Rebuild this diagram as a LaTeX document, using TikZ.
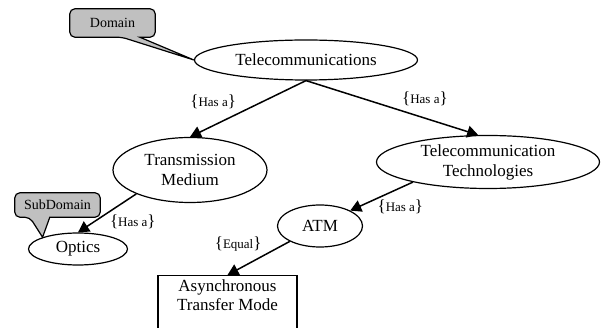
\documentclass[tikz,border=0pt]{standalone}
\usepackage{fontspec}
\setmainfont{Liberation Serif}
\usepackage{xcolor}
\usetikzlibrary{shapes.geometric, arrows.meta, backgrounds}
\definecolor{calloutgray}{RGB}{192,192,192}
\newcommand{\reltag}[1]{{\fontsize{17}{17}\selectfont\{}{\fontsize{13}{15}\selectfont #1}{\fontsize{17}{17}\selectfont\}}}

\begin{document}
\begin{tikzpicture}[x=1pt, y=-1pt, font=\fontsize{17}{20}\selectfont,
        concept/.style={ellipse, draw=black, line width=1.2pt, inner sep=0pt, align=center},
        term/.style={rectangle, draw=black, line width=1.2pt, inner sep=4pt, align=center,
            minimum width=139pt, anchor=north, font=\fontsize{17}{19}\selectfont},
        tagbox/.style={rectangle, inner sep=0pt, minimum width=85pt, font=\fontsize{14}{16}\selectfont},
        callout/.style={draw=black, line width=1.2pt, fill=calloutgray},
        rel/.style={inner sep=0pt}]
        \useasboundingbox (0,0) rectangle (602,328);

        \node[concept, name=tele, minimum width=223pt, minimum height=40pt] at (306,60) {Telecommunications};
        \node[concept, name=tm, minimum width=154pt, minimum height=65pt] at (190,170) {Transmission\\Medium};
        \node[concept, name=tt, minimum width=223pt, minimum height=53pt] at (488,162) {Telecommunication\\Technologies};
        \node[concept, name=atm, minimum width=85pt, minimum height=42pt] at (320,226) {ATM};
        \node[concept, name=optics, minimum width=99pt, minimum height=32pt] at (78,249) {Optics};
        \node[term, name=asyn] at (227.5,275) {Asynchronous\\Transfer Mode\\\strut};

        \node[tagbox, name=domain, minimum height=28pt] at (112.5,23) {Domain};
        \node[tagbox, name=subdomain, minimum height=24pt] at (57.5,205) {SubDomain};

        % callout shapes behind their texts
        \begin{scope}[on background layer]
            \draw[callout] ([xshift=52pt]domain.south west) -- (tele.west) -- ([xshift=70pt]domain.south west)
                [rounded corners=5pt] -- (domain.south east) -- (domain.north east)
                -- (domain.north west) -- (domain.south west) -- cycle;
            \draw[callout] ([xshift=15pt]subdomain.south west) -- (optics.north west) -- ([xshift=35pt]subdomain.south west)
                [rounded corners=5pt] -- (subdomain.south east) -- (subdomain.north east)
                -- (subdomain.north west) -- (subdomain.south west) -- cycle;
        \end{scope}

        \path[-{Triangle[length=11pt, width=12pt]}, line width=1.5pt]
            (tele.south) edge node[rel, pos=0.8, yshift=24pt] {\reltag{Has a}} (tm.north)
            (tele.south) edge node[rel, pos=0.65, xshift=7pt, yshift=17pt] {\reltag{Has a}} (tt.110)
            (tt.195) edge node[rel, pos=0.2, yshift=-19pt] {\reltag{Has a}} (atm.27)
            (tm.204) edge node[rel, pos=0.3, xshift=14pt, yshift=-16pt] {\reltag{Has a}} (optics.north)
            (atm.207) edge node[rel, pos=0.7, xshift=-8pt, yshift=21pt] {\reltag{Equal}} (asyn.north);
    \end{tikzpicture}
\end{document}
